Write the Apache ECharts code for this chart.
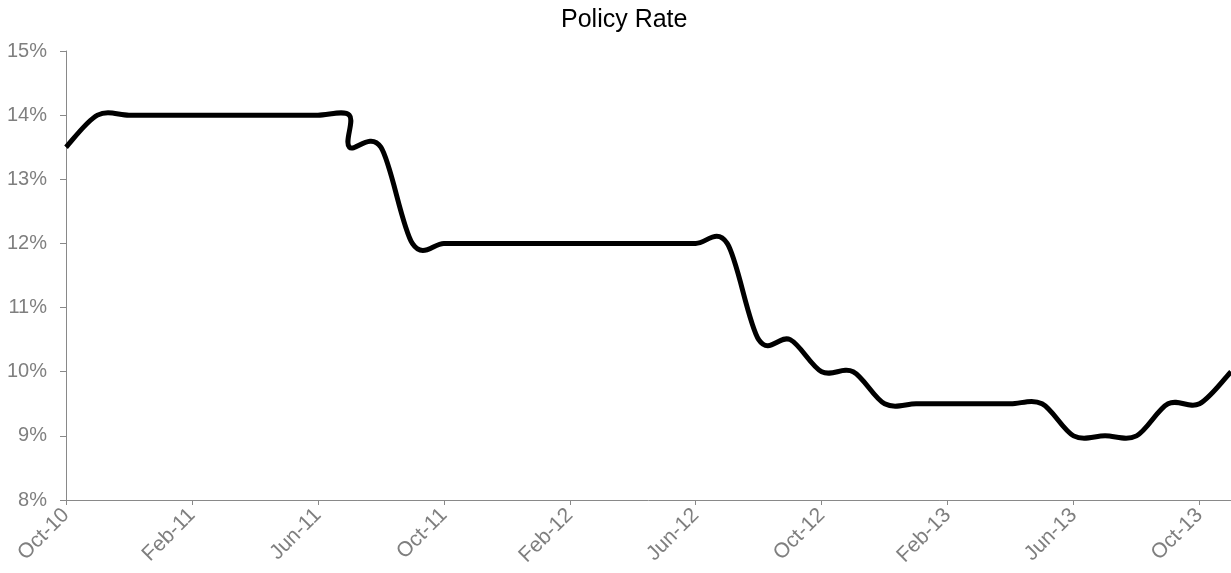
<!DOCTYPE html>
<html>
<head>
<meta charset="utf-8">
<style>
  html, body { margin: 0; padding: 0; background: #ffffff; }
  #chart { width: 1231px; height: 573px; }
</style>
<script src="https://cdn.jsdelivr.net/npm/echarts@6/dist/echarts.min.js"></script>
</head>
<body>
<div id="chart"></div>
<script>
// ---- data ----
const dates = ['2010-10','2010-11','2010-12','2011-01','2011-02','2011-03','2011-04','2011-05','2011-06',
  '2011-07','2011-07','2011-08','2011-09','2011-10','2011-11','2011-12',
  '2012-01','2012-02','2012-03','2012-04','2012-05','2012-06','2012-07','2012-08','2012-09','2012-10','2012-11','2012-12',
  '2013-01','2013-02','2013-03','2013-04','2013-05','2013-06','2013-07','2013-08','2013-09','2013-10','2013-11'];
const rates = [13.5,14,14,14,14,14,14,14,14,
  14,13.5,13.5,12,12,12,12,
  12,12,12,12,12,12,12,10.5,10.5,10,10,9.5,
  9.5,9.5,9.5,9.5,9.5,9,9,9,9.5,9.5,10];
const tickLabels = ['Oct-10','Feb-11','Jun-11','Oct-11','Feb-12','Jun-12','Oct-12','Feb-13','Jun-13','Oct-13'];
const yTicks = [8, 9, 10, 11, 12, 13, 14, 15];

// months since Oct-2010
function monthIndex(d) {
  const p = d.split('-');
  return (parseInt(p[0], 10) - 2010) * 12 + (parseInt(p[1], 10) - 10);
}
const points = dates.map((d, i) => [monthIndex(d), rates[i]]);
const tickValues = tickLabels.map((_, i) => i * 4);
const lastIndex = monthIndex(dates[dates.length - 1]);

const chart = echarts.init(document.getElementById('chart'));
const FONT = "'Liberation Sans', Arial, sans-serif";
const GRAY = '#7f7f7f';

chart.setOption({
  animation: false,
  title: {
    text: 'Policy Rate',
    left: 561,
    top: 8,
    padding: 0,
    textStyle: { fontFamily: FONT, fontSize: 25, fontWeight: 'normal', color: '#000000' }
  },
  grid: { left: 66, right: 0, top: 51, bottom: 73, containLabel: false },
  xAxis: {
    type: 'value',
    min: 0,
    max: lastIndex,
    interval: 4,
    splitLine: { show: false },
    axisLine: { show: true, lineStyle: { color: '#898989', width: 1 } },
    axisTick: { show: true, length: 5, customValues: tickValues, lineStyle: { color: '#898989' } },
    axisLabel: {
      customValues: tickValues,
      rotate: 45,
      margin: 12,
      color: GRAY,
      fontFamily: FONT,
      fontSize: 21,
      formatter: function (v) { return (v % 4 === 0 && tickLabels[v / 4]) ? tickLabels[v / 4] : ''; }
    }
  },
  yAxis: {
    type: 'value',
    min: yTicks[0],
    max: yTicks[yTicks.length - 1],
    interval: 1,
    splitLine: { show: false },
    axisLine: { show: true, lineStyle: { color: '#898989', width: 1 } },
    axisTick: { show: true, length: 6, lineStyle: { color: '#898989' } },
    axisLabel: {
      margin: 19,
      color: GRAY,
      fontFamily: FONT,
      fontSize: 20,
      formatter: '{value}%'
    }
  },
  series: [{
    type: 'custom',
    coordinateSystem: 'cartesian2d',
    clip: false,
    data: points,
    encode: { x: 0, y: 1 },
    renderItem: function (params, api) {
      if (params.dataIndex !== 0) return null;
      const P = points.map(p => api.coord(p));
      const n = P.length;
      let d = 'M' + P[0][0] + ' ' + P[0][1];
      for (let i = 0; i < n - 1; i++) {
        const p0 = P[i > 0 ? i - 1 : i];
        const p1 = P[i];
        const p2 = P[i + 1];
        const p3 = P[i + 2 < n ? i + 2 : i + 1];
        const c1x = p1[0] + (p2[0] - p0[0]) / 6;
        const c1y = p1[1] + (p2[1] - p0[1]) / 6;
        const c2x = p2[0] - (p3[0] - p1[0]) / 6;
        const c2y = p2[1] - (p3[1] - p1[1]) / 6;
        d += ' C' + c1x + ' ' + c1y + ' ' + c2x + ' ' + c2y + ' ' + p2[0] + ' ' + p2[1];
      }
      return {
        type: 'path',
        shape: { pathData: d },
        style: { stroke: '#000000', lineWidth: 5, fill: 'none', lineJoin: 'round', lineCap: 'butt' }
      };
    }
  }]
});
</script>
</body>
</html>
